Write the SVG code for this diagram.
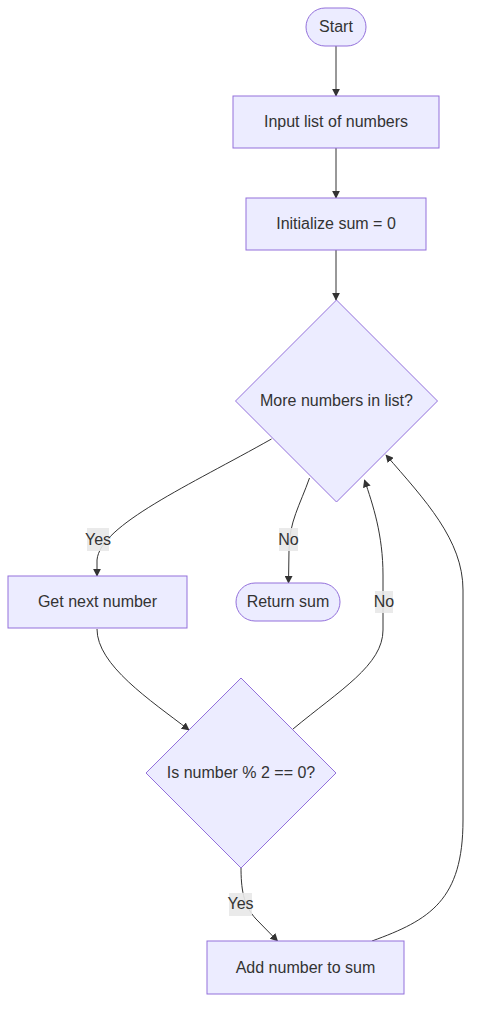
<svg xmlns="http://www.w3.org/2000/svg" width="479" height="1018" viewBox="0 0 479 1018">
<style>
.n{fill:#ECECFF;stroke:#9370DB;stroke-width:1}
.t{font-family:"Liberation Sans",Arial,sans-serif;font-size:16px;fill:#333;text-anchor:middle;dominant-baseline:central}
.e{fill:none;stroke:#333;stroke-width:1}
.lb{fill:#e8e8e8;opacity:0.9}
</style>
<defs>
<marker id="arr" viewBox="0 0 10 10" refX="9" refY="5" markerWidth="8" markerHeight="8" orient="auto" markerUnits="userSpaceOnUse">
<path d="M0,0 L10,5 L0,10 z" fill="#333"/>
</marker>
</defs>
<rect width="479" height="1018" fill="#fff"/>
<g id="edges">
<path class="e" d="M336,46 L336,96" marker-end="url(#arr)"/>
<path class="e" d="M336,148 L336,198" marker-end="url(#arr)"/>
<path class="e" d="M336,250 L336,300" marker-end="url(#arr)"/>
<path class="e" d="M271.5,439 C190,485 100,525 97,560 L97,576" marker-end="url(#arr)"/>
<path class="e" d="M309.5,478 C300,505 289,522 289,550 L288.5,583" marker-end="url(#arr)"/>
<path class="e" d="M97,629 C97,665 150,700 189,730" marker-end="url(#arr)"/>
<path class="e" d="M293,729 C340,690 383,665 383,630 L383,575 C383,535 373,505 364.5,480" marker-end="url(#arr)"/>
<path class="e" d="M241,867 C241,888 243,905 256,919 L277.5,941" marker-end="url(#arr)"/>
<path class="e" d="M372,941 C430,920 463,900 463,820 L463,590 C463,540 425,500 386,455" marker-end="url(#arr)"/>
</g>
<g id="labels">
<rect class="lb" x="87" y="528" width="22" height="23"/><text class="t" x="98" y="539">Yes</text>
<rect class="lb" x="279" y="528" width="19" height="23"/><text class="t" x="288.5" y="539">No</text>
<rect class="lb" x="375" y="591" width="18" height="22"/><text class="t" x="384" y="601.5">No</text>
<rect class="lb" x="229" y="893" width="23" height="23"/><text class="t" x="240.5" y="903.5">Yes</text>
</g>
<g id="start"><rect class="n" x="306" y="8" width="60" height="38" rx="19"/><text class="t" x="336" y="26.5">Start</text></g>
<g id="input"><rect class="n" x="233" y="96" width="206" height="52"/><text class="t" x="336" y="121.5">Input list of numbers</text></g>
<g id="init"><rect class="n" x="246" y="198" width="180" height="52"/><text class="t" x="336" y="223.5">Initialize sum = 0</text></g>
<g id="more"><polygon class="n" points="336.5,300 437.5,401 336.5,502 235.5,401"/><text class="t" x="336.5" y="400.5">More numbers in list?</text></g>
<g id="getnext"><rect class="n" x="8" y="576" width="179" height="52"/><text class="t" x="97.5" y="601.5">Get next number</text></g>
<g id="ret"><rect class="n" x="236" y="583" width="104" height="38" rx="19"/><text class="t" x="288" y="601.5">Return sum</text></g>
<g id="even"><polygon class="n" points="241,678 336,773 241,868 146,773"/><text class="t" x="241" y="772.5">Is number % 2 == 0?</text></g>
<g id="add"><rect class="n" x="207" y="941" width="197" height="53"/><text class="t" x="305.5" y="967">Add number to sum</text></g>
</svg>
